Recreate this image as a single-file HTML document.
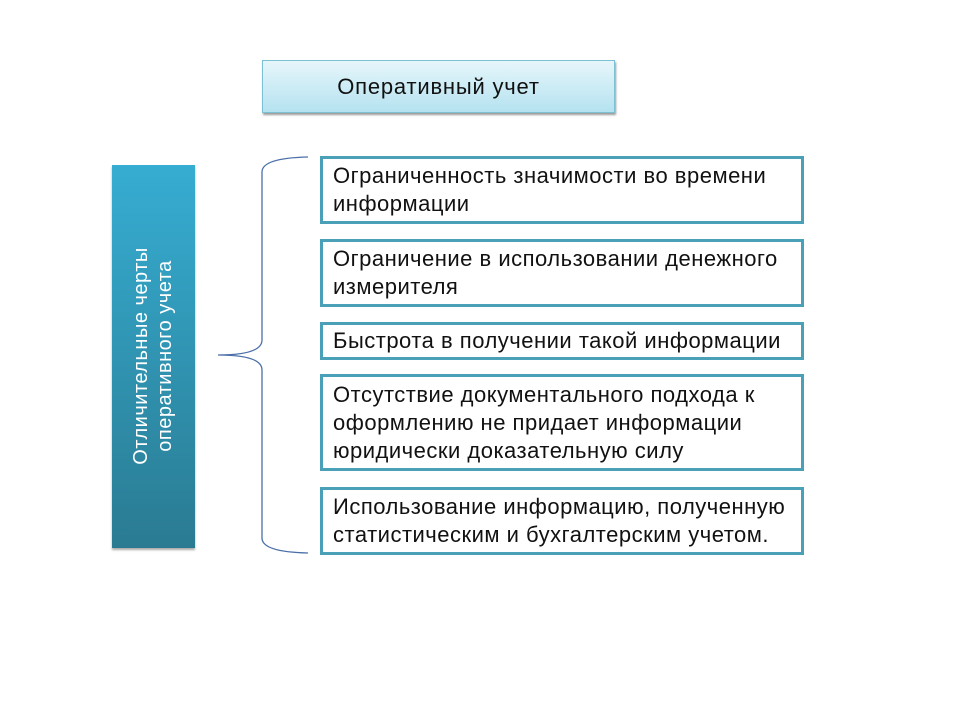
<!DOCTYPE html>
<html><head><meta charset="utf-8"><style>
body{margin:0;width:960px;height:720px;background:#fff;position:relative;overflow:hidden;font-family:"Liberation Sans","DejaVu Sans",sans-serif}
.t{position:absolute;left:262px;top:60px;width:351px;height:51px;background:linear-gradient(#e6f6fb,#b5e2f0);border:1px solid #7cc0d3;box-shadow:1px 2px 2px #9a9a9a;font-size:22px;letter-spacing:0.8px;line-height:51px;text-align:center;color:#111}
.l{position:absolute;left:112px;top:165px;width:83px;height:383px;background:linear-gradient(#36add2,#2a7b92);box-shadow:0 2px 2px #aaa}
.lt{position:absolute;left:153px;top:356px;width:380px;transform:translate(-50%,-50%) rotate(-90deg);color:#fff;font-size:20px;letter-spacing:0.5px;line-height:24px;text-align:center}
.b{position:absolute;left:320px;border:3px solid #4aa0b6;background:#fff;font-size:22px;letter-spacing:0.5px;line-height:28px;padding:0 0 0 10px;box-sizing:border-box;color:#111;display:flex;align-items:center;white-space:nowrap}
</style></head><body>
<div class="t">Оперативный учет</div>
<div class="l"></div>
<div class="lt">Отличительные черты<br>оперативного учета</div>
<svg width="960" height="720" style="position:absolute;left:0;top:0">
<path d="M308 157 Q262 158 262 172 L262 340 Q262 355 218 355 Q262 355 262 370 L262 538 Q262 552 308 553" fill="none" stroke="#4a6fa8" stroke-width="1.3"/>
</svg>
<div class="b" style="top:156px;height:68px;width:484px">Ограниченность значимости во времени<br>информации</div>
<div class="b" style="top:239px;height:68px;width:484px">Ограничение в использовании денежного<br>измерителя</div>
<div class="b" style="top:322px;height:38px;width:484px">Быстрота в получении такой информации</div>
<div class="b" style="top:374px;height:97px;width:484px">Отсутствие документального подхода к<br>оформлению не придает информации<br>юридически доказательную силу</div>
<div class="b" style="top:487px;height:68px;width:484px">Использование информацию, полученную<br>статистическим и бухгалтерским учетом.</div>
</body></html>
